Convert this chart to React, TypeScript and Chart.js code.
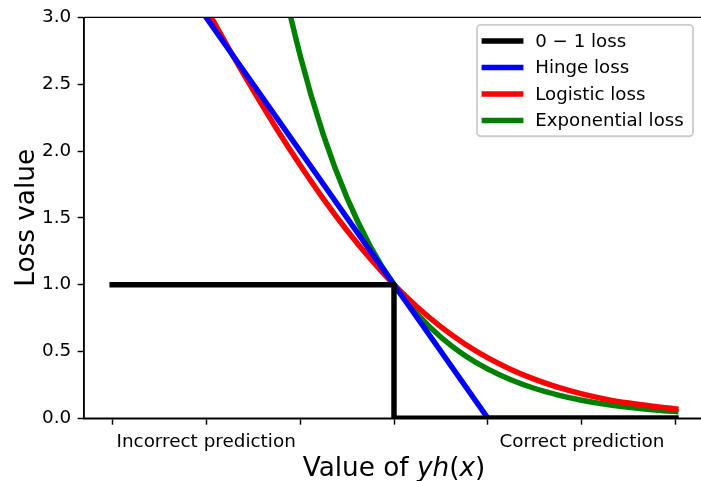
import React, { useEffect, useRef } from "react";
import { Chart, registerables } from "chart.js";

Chart.register(...registerables);

// ---- data ----
const zGrid = [-3, -2.75, -2.5, -2.25, -2, -1.75, -1.5, -1.25, -1, -0.75, -0.5, -0.25, 0, 0.25, 0.5, 0.75, 1, 1.25, 1.5, 1.75, 2, 2.25, 2.5, 2.75, 3];
const logisticLoss = [4.398, 4.057, 3.721, 3.391, 3.069, 2.756, 2.455, 2.167, 1.895, 1.64, 1.405, 1.192, 1.0, 0.831, 0.684, 0.558, 0.452, 0.364, 0.291, 0.231, 0.183, 0.144, 0.114, 0.09, 0.07];
const exponentialLoss = [20.086, 15.643, 12.182, 9.488, 7.389, 5.755, 4.482, 3.49, 2.718, 2.117, 1.649, 1.284, 1.0, 0.779, 0.607, 0.472, 0.368, 0.287, 0.223, 0.174, 0.135, 0.105, 0.082, 0.064, 0.05];
const hingeZ = [-3, 1, 3];
const hingeLoss = [4, 0, 0];
const zeroOneZ = [-3, 0, 0, 3];
const zeroOneLoss = [1, 1, 0, 0];

const seriesLabels = ["0 \u2212 1 loss", "Hinge loss", "Logistic loss", "Exponential loss"];
const seriesColors = ["#000000", "#0000ff", "#ff0000", "#008000"];

const xTicks = [-3, -2, -1, 0, 1, 2, 3];
const xTickLabels = ["", "Incorrect prediction", "", "", "", "Correct prediction", ""];
const yTickStep = 0.5;
const yLabel = "Loss value";

const FONT = "'DejaVu Sans', sans-serif";
const PX = 131 / 72; // points -> pixels
const LW = 3 * PX;

const pts = (xs: number[], ys: number[]) => xs.map((x, i) => ({ x, y: ys[i] }));

const decorPlugin = {
  id: "decor",
  afterDatasetsDraw(chart: any) {
    const { ctx, chartArea } = chart;
    const { left, right, top, bottom } = chartArea;
    ctx.save();
    // spines
    ctx.strokeStyle = "#000";
    ctx.lineWidth = 0.8 * PX;
    ctx.lineCap = "butt";
    ctx.beginPath();
    ctx.moveTo(left, top);
    ctx.lineTo(right, top);
    ctx.moveTo(left, bottom);
    ctx.lineTo(right, bottom);
    ctx.moveTo(left, top);
    ctx.lineTo(left, bottom);
    ctx.stroke();

    // legend
    const fs = 10 * PX;
    ctx.font = `${fs}px ${FONT}`;
    const ds = chart.data.datasets;
    let maxW = 0;
    ds.forEach((d: any) => {
      maxW = Math.max(maxW, ctx.measureText(d.label).width);
    });
    const pad = 0.4 * fs;
    const handleLen = 2.0 * fs;
    const handleGap = 0.8 * fs;
    const rowH = 17.4;
    const rowGap = 0.5 * fs;
    const boxRight = 693;
    const boxTop = 24.8;
    const boxW = pad * 2 + handleLen + handleGap + maxW + 2;
    const boxH = pad * 2 + ds.length * rowH + (ds.length - 1) * rowGap;
    const boxLeft = boxRight - boxW;
    const r = 0.2 * fs;
    ctx.beginPath();
    ctx.moveTo(boxLeft + r, boxTop);
    ctx.lineTo(boxLeft + boxW - r, boxTop);
    ctx.arcTo(boxLeft + boxW, boxTop, boxLeft + boxW, boxTop + r, r);
    ctx.lineTo(boxLeft + boxW, boxTop + boxH - r);
    ctx.arcTo(boxLeft + boxW, boxTop + boxH, boxLeft + boxW - r, boxTop + boxH, r);
    ctx.lineTo(boxLeft + r, boxTop + boxH);
    ctx.arcTo(boxLeft, boxTop + boxH, boxLeft, boxTop + boxH - r, r);
    ctx.lineTo(boxLeft, boxTop + r);
    ctx.arcTo(boxLeft, boxTop, boxLeft + r, boxTop, r);
    ctx.closePath();
    ctx.fillStyle = "rgba(255,255,255,0.8)";
    ctx.fill();
    ctx.strokeStyle = "#cccccc";
    ctx.lineWidth = 1.0 * PX;
    ctx.stroke();

    ds.forEach((d: any, i: number) => {
      const cy = boxTop + pad + rowH / 2 + i * (rowH + rowGap) + 0.3;
      const hx = boxLeft + pad;
      ctx.strokeStyle = d.borderColor;
      ctx.lineWidth = LW;
      ctx.lineCap = "square";
      ctx.beginPath();
      ctx.moveTo(hx, cy);
      ctx.lineTo(hx + handleLen, cy);
      ctx.stroke();
      ctx.fillStyle = "#000";
      ctx.textAlign = "left";
      ctx.textBaseline = "middle";
      ctx.fillText(d.label, hx + handleLen + handleGap, cy + 1);
    });

    // y axis label
    const lf = 26.3;
    ctx.fillStyle = "#000";
    ctx.font = `${lf}px ${FONT}`;
    ctx.save();
    ctx.translate(34, (top + bottom) / 2);
    ctx.rotate(-Math.PI / 2);
    ctx.textAlign = "center";
    ctx.textBaseline = "alphabetic";
    ctx.fillText(yLabel, 0, 0);
    ctx.restore();

    // x axis label: "Value of " + italic yh + "(" + italic x + ")"
    const parts: [string, boolean][] = [
      ["Value of ", false],
      ["yh", true],
      ["(", false],
      ["x", true],
      [")", false],
    ];
    const fontN = `${lf}px ${FONT}`;
    const fontI = `italic ${lf}px ${FONT}`;
    let total = 0;
    const widths = parts.map(([t, it]) => {
      ctx.font = it ? fontI : fontN;
      const w = ctx.measureText(t).width;
      total += w;
      return w;
    });
    let x = (left + right) / 2 - total / 2;
    ctx.textAlign = "left";
    ctx.textBaseline = "alphabetic";
    parts.forEach(([t, it], i) => {
      ctx.font = it ? fontI : fontN;
      ctx.fillText(t, x, 476);
      x += widths[i];
    });
    ctx.restore();
  },
};

export default function App() {
  const ref = useRef<HTMLCanvasElement | null>(null);
  useEffect(() => {
    if (!ref.current) return;
    Chart.defaults.font.family = FONT;
    const common = {
      borderWidth: LW,
      pointRadius: 0,
      pointHoverRadius: 0,
      fill: false,
      borderCapStyle: "square" as const,
      borderJoinStyle: "round" as const,
      clip: 0,
    };
    const chart = new Chart(ref.current, {
      type: "line",
      data: {
        datasets: [
          { ...common, label: seriesLabels[0], data: pts(zeroOneZ, zeroOneLoss), borderColor: seriesColors[0], tension: 0 },
          { ...common, label: seriesLabels[1], data: pts(hingeZ, hingeLoss), borderColor: seriesColors[1], tension: 0 },
          { ...common, label: seriesLabels[2], data: pts(zGrid, logisticLoss), borderColor: seriesColors[2], cubicInterpolationMode: "monotone" },
          { ...common, label: seriesLabels[3], data: pts(zGrid, exponentialLoss), borderColor: seriesColors[3], cubicInterpolationMode: "monotone" },
        ] as any,
      },
      options: {
        animation: false,
        responsive: false,
        devicePixelRatio: 1,
        layout: { padding: { left: 0, right: 2, top: 15.5, bottom: 0 } },
        plugins: { legend: { display: false }, tooltip: { enabled: false } },
        events: [],
        scales: {
          x: {
            type: "linear",
            min: -3.3,
            max: 3.3,
            afterBuildTicks: (scale: any) => {
              scale.ticks = xTicks.map((v) => ({ value: v }));
            },
            afterFit: (scale: any) => {
              scale.height = 481 - 418.3;
            },
            ticks: {
              autoSkip: false,
              maxRotation: 0,
              minRotation: 0,
              padding: 3.5 * PX,
              color: "#000",
              font: { size: 10.1 * PX, family: FONT },
              callback: (v: any) => {
                const i = xTicks.indexOf(Number(v));
                return i >= 0 ? xTickLabels[i] : "";
              },
            },
            grid: { drawOnChartArea: false, drawTicks: true, tickLength: 3.5 * PX, tickColor: "#000", tickWidth: 0.8 * PX },
            border: { display: true, color: "#000", width: 0.8 * PX },
          },
          y: {
            type: "linear",
            min: 0,
            max: 3,
            afterFit: (scale: any) => {
              scale.width = 84;
            },
            ticks: {
              stepSize: yTickStep,
              padding: 3.5 * PX,
              color: "#000",
              font: { size: 10.1 * PX, family: FONT },
              callback: (v: any) => Number(v).toFixed(1),
            },
            grid: { drawOnChartArea: false, drawTicks: true, tickLength: 3.5 * PX, tickColor: "#000", tickWidth: 0.8 * PX },
            border: { display: true, color: "#000", width: 0.8 * PX },
          },
        },
      } as any,
      plugins: [decorPlugin],
    });
    return () => chart.destroy();
  }, []);
  return (
    <div style={{ position: "absolute", left: 0, top: 0, width: 701, height: 481, overflow: "hidden", background: "#fff" }}>
      <canvas ref={ref} width={706} height={481} style={{ width: 706, height: 481, display: "block" }} />
    </div>
  );
}
